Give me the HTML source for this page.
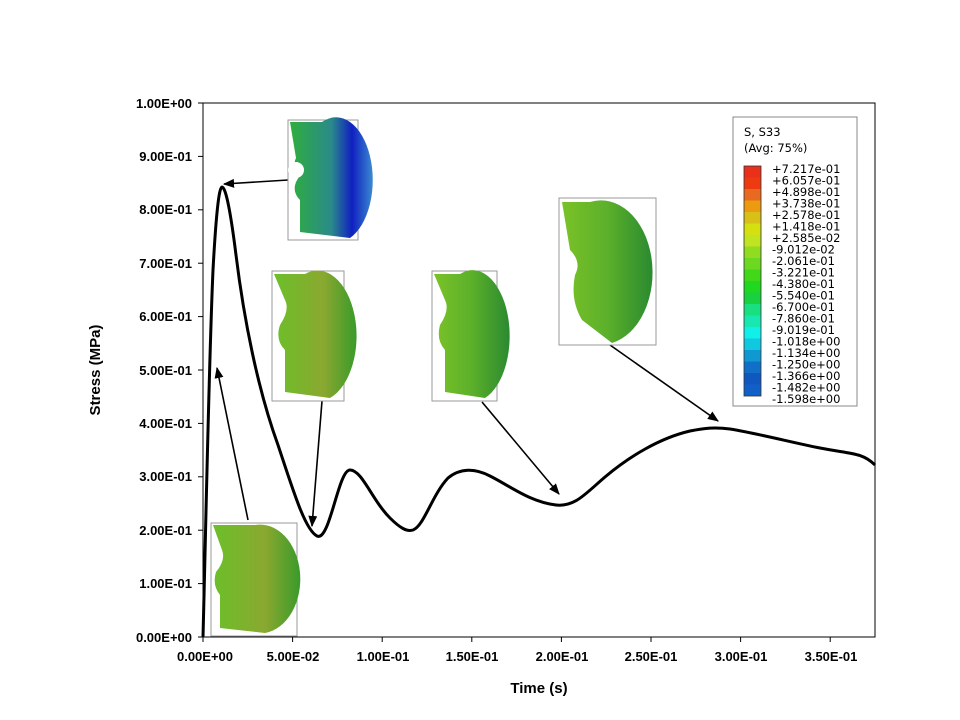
<!DOCTYPE html>
<html><head><meta charset="utf-8"><style>
body{margin:0;background:#fff;}
svg{display:block;font-family:"Liberation Sans",Arial,sans-serif;}
</style></head><body>
<svg width="960" height="720" viewBox="0 0 960 720">
<defs>
<marker id="ah" viewBox="0 0 10 10" refX="9" refY="5" markerWidth="7" markerHeight="7" orient="auto"><path d="M0,1 L10,5 L0,9 z" fill="#000"/></marker>
<linearGradient id="g1" x1="0" x2="1"><stop offset="0" stop-color="#2fae3c"/><stop offset="0.5" stop-color="#2a8a8a"/><stop offset="0.75" stop-color="#1020c0"/><stop offset="1" stop-color="#3a8ad0"/></linearGradient>
<linearGradient id="g2" x1="0" x2="1"><stop offset="0" stop-color="#6cbf2a"/><stop offset="0.6" stop-color="#8aa830"/><stop offset="1" stop-color="#3a9a2a"/></linearGradient>
<linearGradient id="g3" x1="0" x2="1"><stop offset="0" stop-color="#7ac228"/><stop offset="0.5" stop-color="#5cb02a"/><stop offset="1" stop-color="#2a8a30"/></linearGradient>
</defs>
<rect x="203" y="103" width="672" height="534" fill="none" stroke="#000" stroke-width="1"/>
<g stroke="#000" stroke-width="1">
<line x1="198" y1="103" x2="203" y2="103"/><line x1="198" y1="156.4" x2="203" y2="156.4"/><line x1="198" y1="209.8" x2="203" y2="209.8"/><line x1="198" y1="263.2" x2="203" y2="263.2"/><line x1="198" y1="316.6" x2="203" y2="316.6"/><line x1="198" y1="370" x2="203" y2="370"/><line x1="198" y1="423.4" x2="203" y2="423.4"/><line x1="198" y1="476.8" x2="203" y2="476.8"/><line x1="198" y1="530.2" x2="203" y2="530.2"/><line x1="198" y1="583.6" x2="203" y2="583.6"/><line x1="198" y1="637" x2="203" y2="637"/>
<line x1="203" y1="637" x2="203" y2="642"/><line x1="292.6" y1="637" x2="292.6" y2="642"/><line x1="382.2" y1="637" x2="382.2" y2="642"/><line x1="471.8" y1="637" x2="471.8" y2="642"/><line x1="561.4" y1="637" x2="561.4" y2="642"/><line x1="651" y1="637" x2="651" y2="642"/><line x1="740.6" y1="637" x2="740.6" y2="642"/><line x1="830.2" y1="637" x2="830.2" y2="642"/>
</g>
<g font-size="13" font-weight="bold" text-anchor="end">
<text x="192" y="108">1.00E+00</text><text x="192" y="161">9.00E-01</text><text x="192" y="214">8.00E-01</text><text x="192" y="268">7.00E-01</text><text x="192" y="321">6.00E-01</text><text x="192" y="375">5.00E-01</text><text x="192" y="428">4.00E-01</text><text x="192" y="481">3.00E-01</text><text x="192" y="535">2.00E-01</text><text x="192" y="588">1.00E-01</text><text x="192" y="642">0.00E+00</text>
</g>
<g font-size="13" font-weight="bold" text-anchor="middle">
<text x="205" y="661">0.00E+00</text><text x="293" y="661">5.00E-02</text><text x="383" y="661">1.00E-01</text><text x="472" y="661">1.50E-01</text><text x="562" y="661">2.00E-01</text><text x="651" y="661">2.50E-01</text><text x="741" y="661">3.00E-01</text><text x="831" y="661">3.50E-01</text>
</g>
<text x="539" y="693" font-size="15" font-weight="bold" text-anchor="middle">Time (s)</text>
<text transform="translate(100,370) rotate(-90)" font-size="15" font-weight="bold" text-anchor="middle">Stress (MPa)</text>
<path d="M203,637 C206,520 209,360 213,270 C216,215 219,187 222,187 C226,187 231,215 236,255 C244,320 258,390 278,445 C293,490 305,530 317,536 C330,542 338,470 350,470 C362,470 372,500 390,518 C400,528 407,532 413,530 C424,526 432,495 448,478 C460,468 475,468 490,476 C510,486 530,502 556,505 C575,507 585,494 605,477 C630,456 660,438 690,431 C705,428 715,427 730,429 C760,434 790,442 820,448 C850,454 862,452 875,465" fill="none" stroke="#000" stroke-width="3"/>
<g stroke="#000" stroke-width="1.6" fill="none" marker-end="url(#ah)">
<line x1="288" y1="180" x2="224" y2="184"/>
<line x1="248" y1="520" x2="217" y2="368"/>
<line x1="322" y1="401" x2="312" y2="526"/>
<line x1="482" y1="402" x2="559" y2="494"/>
<line x1="610" y1="345" x2="718" y2="421"/>
</g>
<g stroke="#999" stroke-width="1" fill="#fff">
<rect x="288" y="120" width="70" height="120"/>
<rect x="272" y="271" width="72" height="130"/>
<rect x="432" y="271" width="65" height="130"/>
<rect x="559" y="198" width="97" height="147"/>
<rect x="211" y="523" width="86" height="113"/>
</g>
<g stroke="none">
<path d="M290,122 L322,122 A34,58 0 0 1 350,238 L300,232 L300,200 Q292,192 296,182 L300,175 Q292,165 296,158 Z" fill="url(#g1)"/>
<circle cx="296" cy="170" r="8" fill="#fff"/>
<path d="M274,274 L305,274 A37,62 0 0 1 330,398 L285,392 L285,350 Q275,340 280,325 Q290,310 285,300 Z" fill="url(#g2)"/>
<path d="M434,274 L460,274 A35,62 0 0 1 485,398 L445,392 L445,350 Q436,340 440,325 Q450,310 445,300 Z" fill="url(#g3)"/>
<path d="M562,202 L590,202 A50,70 0 0 1 612,343 L582,320 Q570,300 575,275 Q582,262 570,250 Z" fill="url(#g3)"/>
<path d="M213,525 L255,525 A40,54 0 0 1 265,633 L220,628 L220,595 Q212,585 216,572 Q226,560 222,550 Z" fill="url(#g2)"/>
</g>
<rect x="733" y="117" width="124" height="289" fill="#fff" stroke="#888" stroke-width="1"/>
<text x="744" y="136" font-size="11.5" font-family="DejaVu Sans,sans-serif">S, S33</text>
<text x="744" y="152" font-size="11.5" font-family="DejaVu Sans,sans-serif">(Avg: 75%)</text>
<g stroke="none">
<rect x="744" y="166" width="17" height="11.6" fill="#e8301a"/>
<rect x="744" y="177.5" width="17" height="11.6" fill="#ee3a10"/>
<rect x="744" y="189" width="17" height="11.6" fill="#e86a20"/>
<rect x="744" y="200.5" width="17" height="11.6" fill="#ec9a10"/>
<rect x="744" y="212" width="17" height="11.6" fill="#d8c018"/>
<rect x="744" y="223.5" width="17" height="11.6" fill="#d4e010"/>
<rect x="744" y="235" width="17" height="11.6" fill="#c0e420"/>
<rect x="744" y="246.5" width="17" height="11.6" fill="#90dc20"/>
<rect x="744" y="258" width="17" height="11.6" fill="#6cd820"/>
<rect x="744" y="269.5" width="17" height="11.6" fill="#40d818"/>
<rect x="744" y="281" width="17" height="11.6" fill="#20d820"/>
<rect x="744" y="292.5" width="17" height="11.6" fill="#18d040"/>
<rect x="744" y="304" width="17" height="11.6" fill="#18e080"/>
<rect x="744" y="315.5" width="17" height="11.6" fill="#18e8b0"/>
<rect x="744" y="327" width="17" height="11.6" fill="#10f0e8"/>
<rect x="744" y="338.5" width="17" height="11.6" fill="#10c8e0"/>
<rect x="744" y="350" width="17" height="11.6" fill="#1098d0"/>
<rect x="744" y="361.5" width="17" height="11.6" fill="#1070c8"/>
<rect x="744" y="373" width="17" height="11.6" fill="#1058c0"/>
<rect x="744" y="384.5" width="17" height="11.6" fill="#1060c8"/>
</g>
<rect x="744" y="166" width="17" height="230" fill="none" stroke="#333" stroke-width="0.8"/>
<g font-size="11.5" font-family="DejaVu Sans,sans-serif">
<text x="772" y="173">+7.217e-01</text><text x="772" y="184.5">+6.057e-01</text><text x="772" y="196">+4.898e-01</text><text x="772" y="207.5">+3.738e-01</text><text x="772" y="219">+2.578e-01</text><text x="772" y="230.5">+1.418e-01</text><text x="772" y="242">+2.585e-02</text><text x="772" y="253.5">-9.012e-02</text><text x="772" y="265">-2.061e-01</text><text x="772" y="276.5">-3.221e-01</text><text x="772" y="288">-4.380e-01</text><text x="772" y="299.5">-5.540e-01</text><text x="772" y="311">-6.700e-01</text><text x="772" y="322.5">-7.860e-01</text><text x="772" y="334">-9.019e-01</text><text x="772" y="345.5">-1.018e+00</text><text x="772" y="357">-1.134e+00</text><text x="772" y="368.5">-1.250e+00</text><text x="772" y="380">-1.366e+00</text><text x="772" y="391.5">-1.482e+00</text><text x="772" y="403">-1.598e+00</text>
</g>
</svg>
</body></html>
